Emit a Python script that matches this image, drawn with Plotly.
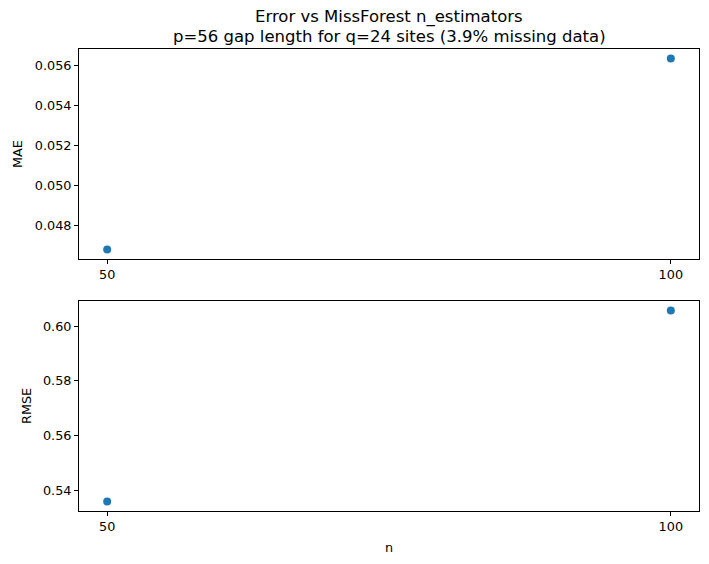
import plotly.graph_objects as go

# n_estimators tried and the resulting errors
n_values = [50, 100]
mae = [0.04682, 0.05634]
rmse = [0.53585, 0.60580]

x_ticks = [50, 100]
mae_ticks = [0.048, 0.050, 0.052, 0.054, 0.056]
rmse_ticks = [0.54, 0.56, 0.58, 0.60]

title_lines = ["Error vs MissForest n_estimators",
               "p=56 gap length for q=24 sites (3.9% missing data)"]

blue = "#1f77b4"
font = "DejaVu Sans"


def padded(vals, frac=0.05):
    lo, hi = min(vals), max(vals)
    pad = (hi - lo) * frac
    return [lo - pad, hi + pad]


fig = go.Figure()
fig.add_trace(go.Scatter(x=n_values, y=mae, mode="markers", xaxis="x", yaxis="y",
                         marker={"color": blue, "size": 8}, showlegend=False))
fig.add_trace(go.Scatter(x=n_values, y=rmse, mode="markers", xaxis="x2", yaxis="y2",
                         marker={"color": blue, "size": 8}, showlegend=False))

axis_style = dict(
    showline=True, mirror=True, linecolor="black", linewidth=1,
    ticks="outside", ticklen=4, tickcolor="black", tickwidth=1,
    showgrid=False, zeroline=False,
    tickfont={"family": font, "size": 12.8, "color": "black"},
)

# title as two annotations so the line spacing matches
annotations = []
for shift, line in zip([32.5, 12.8], title_lines):
    annotations.append(dict(text=line, xref="paper", yref="paper", x=0.5, y=1,
                            yshift=shift, xanchor="center", yanchor="middle",
                            showarrow=False, font={"size": 16.5}))
annotations += [
    dict(text="MAE", xref="paper", yref="paper", x=0, xshift=-62, y=0.7726,
         xanchor="center", yanchor="middle", textangle=-90, showarrow=False),
    dict(text="RMSE", xref="paper", yref="paper", x=0, xshift=-52, y=0.2274,
         xanchor="center", yanchor="middle", textangle=-90, showarrow=False),
    dict(text="n", xref="paper", yref="paper", x=0.5, y=0, yshift=-36,
         yanchor="middle", showarrow=False),
]

# page body has an 8px margin, so the figure is a bit smaller than the window
fig.update_layout(
    width=693,
    height=548,
    margin={"l": 71, "r": 2, "t": 41, "b": 45},
    plot_bgcolor="white",
    paper_bgcolor="white",
    font={"family": font, "size": 12.8, "color": "black"},
    xaxis=dict(axis_style, domain=[0, 1], anchor="y", range=padded(n_values),
               tickvals=x_ticks),
    yaxis=dict(axis_style, domain=[0.5452, 1], anchor="x", range=padded(mae),
               tickvals=mae_ticks, tickformat=".3f"),
    xaxis2=dict(axis_style, domain=[0, 1], anchor="y2", range=padded(n_values),
                tickvals=x_ticks),
    yaxis2=dict(axis_style, domain=[0, 0.4548], anchor="x2", range=padded(rmse),
                tickvals=rmse_ticks, tickformat=".2f"),
    annotations=annotations,
)

fig.write_html("out.html")
